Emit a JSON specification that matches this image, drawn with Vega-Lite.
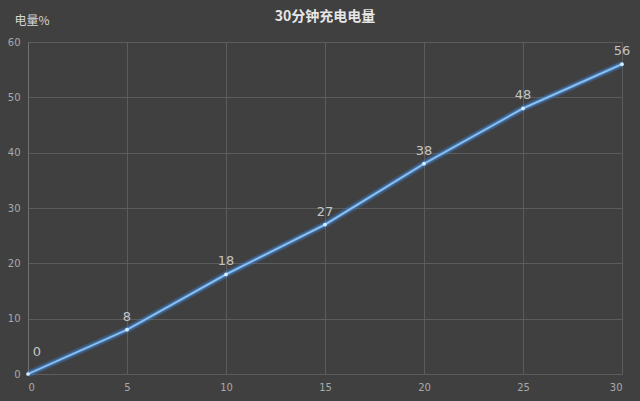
{
  "$schema": "https://vega.github.io/schema/vega-lite/v6.json",
  "autosize": {"type": "none"},
  "width": 594,
  "height": 332,
  "padding": {"left": 28, "top": 42, "right": 18, "bottom": 27},
  "background": "#404040",
  "title": {
    "text": "30分钟充电电量",
    "color": "#e6e6e6",
    "fontSize": 14,
    "fontWeight": "bold",
    "font": "Noto Sans CJK SC",
    "anchor": "middle",
    "offset": 10,
    "dy": 20
  },
  "config": {
    "view": {"stroke": null},
    "font": "Noto Sans CJK SC"
  },
  "data": {
    "values": [
      {"t": 0, "v": 0},
      {"t": 5, "v": 8},
      {"t": 10, "v": 18},
      {"t": 15, "v": 27},
      {"t": 20, "v": 38},
      {"t": 25, "v": 48},
      {"t": 30, "v": 56}
    ]
  },
  "encoding": {
    "x": {
      "field": "t",
      "type": "quantitative",
      "scale": {"domain": [0, 30], "nice": false},
      "axis": {
        "title": null,
        "values": [0, 5, 10, 15, 20, 25, 30],
        "grid": true,
        "gridColor": "#5c5c5c",
        "gridWidth": 1,
        "domain": false,
        "ticks": false,
        "labelColor": "#a8a8a8",
        "labelFontSize": 10,
        "labelPadding": 8,
        "labelFont": "DejaVu Sans"
      }
    },
    "y": {
      "field": "v",
      "type": "quantitative",
      "scale": {"domain": [0, 60], "nice": false},
      "axis": {
        "title": "电量%",
        "titleAngle": 0,
        "titleAlign": "left",
        "titleBaseline": "middle",
        "titleX": -14,
        "titleY": -22,
        "titleColor": "#d6d6d6",
        "titleFontSize": 12,
        "titleFontWeight": "normal",
        "values": [0, 10, 20, 30, 40, 50, 60],
        "grid": true,
        "gridColor": "#5c5c5c",
        "domainColor": "#707070",
        "ticks": false,
        "labelColor": "#a8a8a8",
        "labelFontSize": 10,
        "labelPadding": 8,
        "labelFont": "DejaVu Sans"
      }
    }
  },
  "layer": [
    {
      "mark": {"type": "line", "color": "#3d7fd0", "strokeWidth": 7, "opacity": 0.35}
    },
    {
      "mark": {"type": "line", "color": "#4a90e0", "strokeWidth": 4, "opacity": 0.5}
    },
    {
      "mark": {"type": "line", "color": "#8ec3f0", "strokeWidth": 1.8}
    },
    {
      "mark": {"type": "point", "filled": true, "color": "#d8ecff", "size": 14, "opacity": 1}
    },
    {
      "transform": [{"filter": "datum.t > 0"}],
      "mark": {"type": "text", "dy": -13, "color": "#c4c4c4", "fontSize": 13, "font": "DejaVu Sans"},
      "encoding": {"text": {"field": "v", "type": "quantitative"}}
    },
    {
      "transform": [{"filter": "datum.t == 0"}],
      "mark": {"type": "text", "dx": 9, "dy": -22, "color": "#c4c4c4", "fontSize": 13, "font": "DejaVu Sans"},
      "encoding": {"text": {"field": "v", "type": "quantitative"}}
    }
  ]
}
